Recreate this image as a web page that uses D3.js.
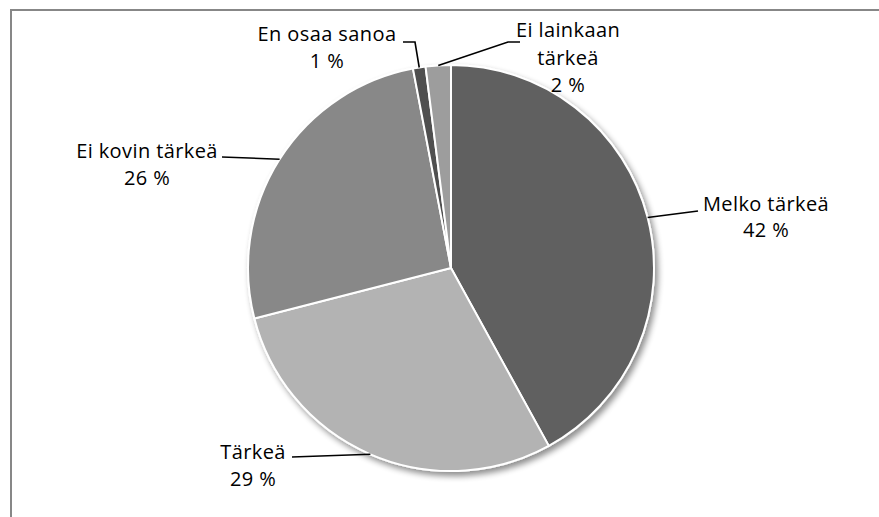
<!DOCTYPE html>
<html><head><meta charset="utf-8">
<script src="https://cdn.jsdelivr.net/npm/d3@7"></script>
<style>html,body{margin:0;padding:0;background:#fff;}svg{display:block;}</style>
</head><body>
<svg id="chart" width="879" height="517"></svg>
<script>
const categories = ["Melko tärkeä", "Tärkeä", "Ei kovin tärkeä", "En osaa sanoa", "Ei lainkaan tärkeä"];
const values = [42, 29, 26, 1, 2];
const percentLabels = ["42 %", "29 %", "26 %", "1 %", "2 %"];
const colors = ["#606060", "#b3b3b3", "#888888", "#4f4f4f", "#9d9d9d"];

const svg = d3.select("#chart");
const W = 879, H = 517;
svg.append("rect").attr("x", 11).attr("y", 10).attr("width", W).attr("height", H)
  .attr("fill", "#fff").attr("stroke", "#878787").attr("stroke-width", 2);

const defs = svg.append("defs");
const f = defs.append("filter").attr("id", "sh").attr("x", "-10%").attr("y", "-10%").attr("width", "130%").attr("height", "130%");
f.append("feGaussianBlur").attr("in", "SourceAlpha").attr("stdDeviation", 3).attr("result", "b");
f.append("feOffset").attr("in", "b").attr("dx", 3).attr("dy", 4).attr("result", "o");
f.append("feComponentTransfer").attr("in", "o").attr("result", "o2")
  .append("feFuncA").attr("type", "linear").attr("slope", 0.45);
const m = f.append("feMerge");
m.append("feMergeNode").attr("in", "o2");
m.append("feMergeNode").attr("in", "SourceGraphic");

const cx = 451, cy = 268, R = 203;
const pie = d3.pie().sort(null).value(d => d)(values);
const arc = d3.arc().innerRadius(0).outerRadius(R);
const g = svg.append("g").attr("transform", `translate(${cx},${cy})`);
g.append("g").attr("filter", "url(#sh)").selectAll("path").data(pie).join("path")
  .attr("d", arc).attr("fill", (d, i) => colors[i])
  .attr("stroke", "#fff").attr("stroke-width", 2).attr("stroke-linejoin", "round");

// label layout: leader line points after the pie edge, text centre x, first baseline, line gap
const labelLayout = [
  {pts: [[698, 211]], tx: 766, ty: 211, gap: 26},
  {pts: [[292, 457]], tx: 253, ty: 459, gap: 27},
  {pts: [[222, 157]], tx: 147, ty: 158, gap: 27},
  {pts: [[415, 42], [403, 42]], tx: 327, ty: 41, gap: 27},
  {pts: [[508, 42], [520, 42]], tx: 568, ty: 37, gap: 27.5}
];
const fs = 20;
pie.forEach((d, i) => {
  const a = (d.startAngle + d.endAngle) / 2;
  const sx = cx + Math.sin(a) * R, sy = cy - Math.cos(a) * R;
  const L = labelLayout[i];
  const pts = [[sx, sy]].concat(L.pts);
  svg.append("path").attr("d", d3.line()(pts)).attr("fill", "none")
    .attr("stroke", "#000").attr("stroke-width", 1.6);
  const textLines = i === 4 ? ["Ei lainkaan", "tärkeä", percentLabels[i]] : [categories[i], percentLabels[i]];
  const t = svg.append("text").attr("font-family", "'Open Sans', sans-serif").attr("font-size", fs)
    .attr("letter-spacing", 0.4).attr("fill", "#000").attr("text-anchor", "middle");
  textLines.forEach((s, k) => {
    t.append("tspan").attr("x", L.tx).attr("y", L.ty + k * L.gap).text(s);
  });
});
</script>
</body></html>
